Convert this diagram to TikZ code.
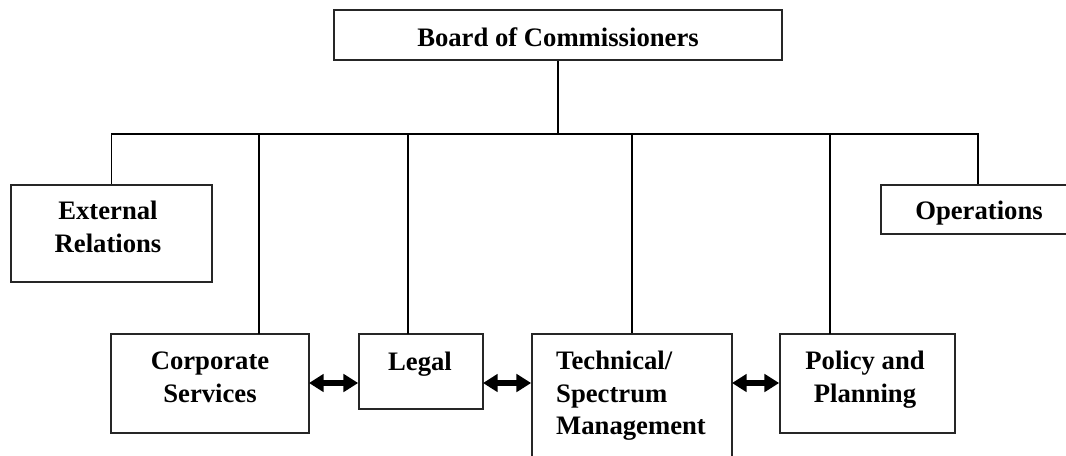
\documentclass[tikz,border=0pt]{standalone}
\usepackage{fontspec}
\setmainfont{Liberation Serif}
\usetikzlibrary{arrows.meta}
\begin{document}
\begin{tikzpicture}[x=0.75pt,y=-0.75pt,
  box/.style={draw=black!85, line width=1.3pt, fill=white, inner sep=0pt},
  lbl/.style={font=\bfseries\fontsize{20}{24.5}\selectfont, align=center, inner sep=0pt},
  conn/.style={draw=black, line width=1.1pt},
  biarrow/.style={line width=4pt, {Triangle[length=11pt,width=13pt]}-{Triangle[length=11pt,width=13pt]}}]
\useasboundingbox (0,0) rectangle (1066,455);
\begin{scope}
\clip (0,0) rectangle (1066,455);
% boxes
\node[box, minimum width=448*0.75pt, minimum height=50*0.75pt] (board) at (558,35) {};
\node[box, minimum width=201*0.75pt, minimum height=97*0.75pt] (ext) at (111.5,233.5) {};
\node[box, minimum width=194*0.75pt, minimum height=49*0.75pt] (ops) at (978,209.5) {};
\node[box, minimum width=198*0.75pt, minimum height=99*0.75pt] (corp) at (210,383.5) {};
\node[box, minimum width=124*0.75pt, minimum height=75*0.75pt] (legal) at (421,371.5) {};
\node[box, minimum width=200*0.75pt, minimum height=136*0.75pt] (tech) at (632,402) {};
\node[box, minimum width=175*0.75pt, minimum height=99*0.75pt] (policy) at (867.5,383.5) {};
% labels
\node[lbl] (boardT) at (558,37) {Board of Commissioners};
\node[lbl] (extT) at (108,227) {External\\Relations};
\node[lbl] (opsT) at (979,213) {Operations};
\node[lbl] (corpT) at (210,377) {Corporate\\Services};
\node[lbl] (legalT) at (420,364) {Legal};
\node[lbl, align=left] (techT) at (631,396) {Technical/\\Spectrum\\Management};
\node[lbl] (policyT) at (865,380) {Policy and\\Planning};
% tree connectors
\coordinate (bus) at (558,134);
\coordinate (corpTop) at (259,334);
\coordinate (legalTop) at (408,334);
\coordinate (policyTop) at (830,334);
\draw[conn] (board.south) -- (bus);
\draw[conn] (bus) -| (ext.north);
\draw[conn] (bus) -| (corpTop);
\draw[conn] (bus) -| (legalTop);
\draw[conn] (bus) -| (tech.north);
\draw[conn] (bus) -| (policyTop);
\draw[conn] (bus) -| (ops.north);
% double arrows
\coordinate (a1) at (309,383);
\coordinate (a2) at (483,383);
\coordinate (a3) at (732,383);
\draw[biarrow] (a1) -- (a1 -| legal.west);
\draw[biarrow] (a2) -- (a2 -| tech.west);
\draw[biarrow] (a3) -- (a3 -| policy.west);
\end{scope}
\end{tikzpicture}
\end{document}
